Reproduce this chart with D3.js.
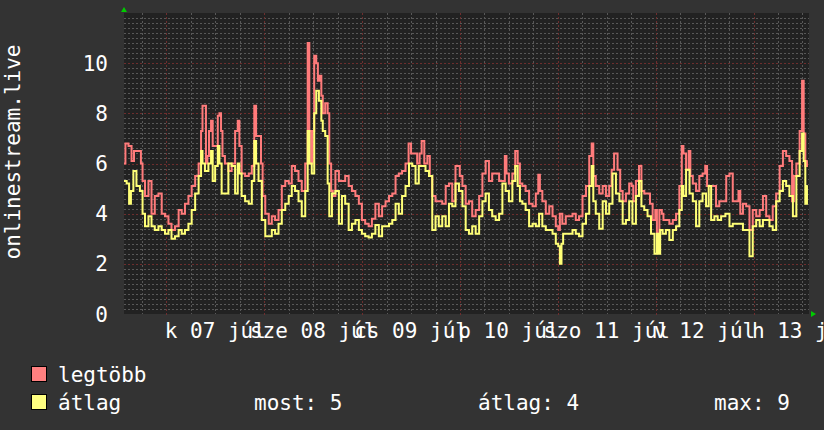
<!DOCTYPE html>
<html>
<head>
<meta charset="utf-8">
<script src="https://cdn.jsdelivr.net/npm/d3@7"></script>
<style>
  html, body { margin: 0; padding: 0; background: #333333; }
  svg text { font-family: "DejaVu Sans Mono", monospace; -webkit-font-smoothing: none; }
</style>
</head>
<body>
<svg id="chart" width="824" height="430"></svg>
<script>
// ---------- data ----------
const yAxisTitle = "onlinestream.live";
const startDate = new Date(2020, 6, 6, 13, 36);   // first sample
const spanHours = 168;                              // one week shown
const yTicks = [0, 2, 4, 6, 8, 10];
const yMax = 12;
const xTickLabels = ["k 07 júl", "sze 08 júl", "cs 09 júl", "p 10 júl", "szo 11 júl", "v 12 júl", "h 13 júl"];
const seriesNames = ["legtöbb", "átlag"];
const statLabels = ["most", "átlag", "max"];

// [hours since startDate, value]
const maxSeries = [[0,6.0],[0.7,6.8],[1.5,6.7],[2.2,6.1],[2.7,6.5],[3.9,6.5],[4.4,6.0],[4.7,5.3],[5.6,4.7],[6.4,5.3],[7.1,4.0],[8.0,4.7],[8.9,4.8],[9.6,4.0],[10.5,3.9],[11.3,3.6],[12.0,3.35],[13.0,3.5],[13.8,4.15],[14.5,4.0],[15.4,4.4],[16.2,4.7],[17.0,5.1],[17.9,5.5],[18.7,6.0],[19.1,7.3],[19.4,8.3],[19.9,8.3],[20.3,6.0],[20.6,6.3],[21.1,7.3],[21.6,7.7],[21.9,6.7],[22.8,6.7],[23.2,7.9],[23.6,8.0],[24.0,7.3],[24.3,6.3],[25.2,6.0],[26.0,5.7],[26.8,6.0],[27.7,7.3],[28.1,7.7],[28.5,6.7],[29.2,5.6],[30.2,5.5],[31.0,5.6],[31.7,5.9],[32.2,8.3],[32.6,7.1],[33.4,7.1],[33.8,6.0],[34.2,4.7],[35.1,4.0],[35.9,3.6],[36.6,3.9],[37.5,3.75],[38.3,4.15],[39.1,5.1],[40.0,5.3],[40.8,5.2],[41.5,5.9],[42.4,5.7],[43.2,5.3],[44.0,4.9],[44.9,6.0],[45.2,10.8],[45.7,7.3],[46.1,6.0],[46.4,7.3],[46.9,10.3],[47.4,10.0],[47.7,9.3],[48.2,9.5],[48.6,8.7],[48.9,8.0],[49.8,8.4],[50.1,8.0],[50.6,6.0],[51.0,4.9],[51.4,4.7],[52.3,5.7],[53.1,5.3],[53.8,5.3],[54.7,5.5],[55.5,5.1],[56.3,4.9],[57.2,4.7],[58.0,4.4],[58.7,3.75],[59.6,3.6],[60.4,3.5],[61.2,3.8],[62.1,4.4],[62.9,3.9],[63.7,4.3],[64.6,4.5],[65.4,4.7],[66.2,4.8],[67.0,5.5],[67.8,5.6],[68.6,5.7],[69.5,6.0],[70.1,6.8],[70.7,6.4],[71.5,6.4],[72.3,6.0],[72.7,6.4],[73.3,6.9],[74.0,6.0],[74.8,6.3],[75.2,5.5],[76.0,4.7],[76.8,4.5],[77.6,4.5],[78.5,4.4],[79.3,5.1],[80.1,5.2],[80.9,4.5],[81.7,5.9],[82.1,5.9],[82.6,5.5],[83.4,5.1],[84.2,4.4],[85.0,4.5],[85.8,3.9],[86.7,4.15],[87.5,4.7],[88.3,5.6],[89.1,6.1],[89.9,5.3],[90.7,5.6],[91.6,5.6],[92.4,5.3],[93.2,5.3],[93.6,6.3],[94.0,5.6],[94.8,5.2],[95.7,5.6],[96.2,6.5],[96.9,6.0],[97.3,5.2],[98.1,5.1],[98.9,4.9],[99.8,4.4],[100.6,4.3],[101.4,4.8],[101.8,5.55],[102.2,4.9],[103.0,4.5],[103.9,4.0],[104.7,4.3],[105.5,3.9],[106.3,3.5],[106.7,3.35],[107.1,4.0],[107.9,3.6],[108.8,3.9],[109.6,3.9],[110.4,4.0],[111.2,3.75],[112.0,3.9],[112.9,4.7],[113.7,5.1],[114.5,6.3],[114.9,6.8],[115.3,5.5],[116.1,5.1],[117.0,4.8],[117.8,5.1],[118.6,4.7],[119.4,5.1],[119.8,5.75],[120.6,6.4],[121.5,5.75],[121.9,4.9],[122.7,4.5],[123.5,4.8],[124.3,5.2],[124.7,5.1],[125.1,4.5],[126.0,5.3],[126.6,5.9],[127.2,4.9],[128.0,4.8],[128.8,4.8],[129.2,4.4],[130.1,3.75],[130.5,4.15],[130.9,3.2],[131.7,4.15],[132.1,4.0],[132.5,3.75],[133.3,3.75],[134.2,3.6],[135.0,3.75],[135.8,4.0],[136.6,5.1],[137.0,6.7],[137.4,6.4],[138.3,5.75],[138.7,6.5],[139.1,5.5],[139.9,5.2],[140.7,4.9],[141.5,5.5],[142.3,5.6],[142.8,5.9],[143.2,5.1],[144.0,5.1],[144.8,5.1],[145.6,4.3],[146.4,4.5],[147.3,4.5],[148.1,5.5],[148.9,5.6],[149.7,4.5],[150.5,4.5],[150.9,4.9],[151.4,4.0],[152.2,4.4],[153.0,4.3],[153.8,3.35],[154.6,4.15],[155.5,3.9],[156.3,4.15],[157.1,4.7],[157.9,3.9],[158.7,3.75],[159.5,4.3],[160.4,4.8],[161.2,5.9],[162.0,6.5],[162.8,6.3],[163.6,6.1],[164.1,4.5],[164.5,5.5],[165.3,6.0],[166.1,7.3],[166.5,9.3],[166.9,7.2],[167.3,5.9],[167.7,6.1]];

const avgSeries = [[0,5.3],[0.3,5.3],[1.0,5.2],[1.5,4.4],[1.9,4.9],[2.7,5.7],[3.4,5.1],[4.4,4.9],[4.7,4.0],[5.6,3.5],[6.4,3.9],[7.1,3.5],[8.0,3.35],[8.9,3.5],[9.6,3.35],[10.5,3.2],[11.3,3.35],[12.0,3.0],[13.0,3.1],[13.8,3.35],[14.5,3.2],[15.4,3.35],[16.2,3.6],[17.0,4.15],[17.9,4.8],[18.7,5.5],[19.1,6.5],[19.4,6.0],[20.3,5.7],[21.1,6.0],[21.6,6.5],[21.9,5.3],[22.8,5.9],[23.2,6.7],[23.6,6.0],[24.3,4.8],[25.2,4.8],[26.0,6.0],[26.8,5.9],[27.7,4.8],[28.1,6.0],[28.5,5.6],[29.2,4.7],[30.2,4.5],[31.0,4.4],[31.7,5.3],[32.2,6.9],[32.6,6.0],[33.4,5.3],[34.2,3.75],[35.1,3.1],[35.9,3.1],[36.6,3.35],[37.5,3.2],[38.3,3.6],[39.1,4.15],[40.0,4.4],[40.8,4.7],[41.5,5.1],[42.4,4.9],[43.2,4.5],[44.0,3.9],[44.9,4.9],[45.2,7.3],[45.7,6.0],[46.4,5.6],[46.9,8.0],[47.4,8.9],[48.2,8.5],[48.6,7.7],[48.9,7.3],[49.8,7.1],[50.1,5.2],[50.6,3.9],[51.4,4.8],[52.3,4.9],[53.1,3.6],[53.8,4.7],[54.7,4.4],[55.5,3.35],[56.3,3.6],[57.2,3.75],[58.0,3.35],[58.7,3.2],[59.6,3.1],[60.4,3.05],[61.2,3.2],[62.1,3.55],[62.9,3.1],[63.7,3.5],[64.6,3.5],[65.4,3.6],[66.2,3.75],[67.0,4.4],[67.8,4.0],[68.6,4.7],[69.5,5.1],[70.3,6.0],[71.1,5.9],[71.9,5.2],[72.7,5.9],[73.5,5.9],[74.4,5.7],[75.2,5.5],[76.0,3.35],[76.8,3.9],[77.6,3.5],[78.5,3.9],[79.3,3.5],[80.1,4.4],[80.9,4.3],[81.7,5.2],[82.6,4.9],[83.4,4.3],[84.2,3.35],[85.0,3.2],[85.8,3.5],[86.7,3.2],[87.5,3.9],[88.3,4.5],[89.1,4.8],[89.9,4.15],[90.7,3.9],[91.6,3.75],[92.4,4.0],[93.2,5.2],[94.0,4.9],[94.8,4.5],[95.7,5.3],[96.2,5.9],[96.9,5.1],[97.3,4.5],[98.1,4.4],[98.9,4.15],[99.8,3.5],[100.6,3.6],[101.4,3.5],[102.2,4.0],[103.0,3.5],[103.9,3.35],[104.7,3.35],[105.5,3.2],[106.3,2.8],[106.7,2.7],[107.1,2.0],[107.5,2.8],[107.9,3.2],[108.8,3.2],[109.6,3.2],[110.4,3.35],[111.2,3.2],[112.0,3.1],[112.9,3.6],[113.7,4.0],[114.5,5.1],[114.9,5.9],[115.3,4.5],[116.1,4.0],[117.0,3.4],[117.8,4.5],[118.6,4.0],[119.4,4.4],[120.2,5.6],[121.1,4.8],[121.9,4.5],[122.7,3.6],[123.5,3.75],[124.3,4.5],[125.1,3.6],[126.0,4.7],[126.6,5.3],[127.2,4.3],[128.0,4.15],[128.8,3.9],[129.7,3.2],[130.5,2.4],[130.9,3.2],[131.3,2.4],[131.7,3.35],[132.5,3.2],[133.3,3.35],[134.2,2.95],[135.0,3.35],[135.8,3.5],[136.6,4.15],[137.0,5.1],[137.4,4.7],[138.3,5.75],[139.1,4.8],[139.9,4.5],[140.7,3.5],[141.5,4.5],[142.3,4.8],[143.2,4.3],[143.6,5.1],[144.4,3.75],[145.2,3.9],[146.0,3.75],[146.9,3.9],[148.1,4.0],[148.9,3.5],[149.7,3.6],[150.5,3.6],[151.4,3.6],[152.2,3.35],[153.0,3.35],[153.8,2.3],[154.6,3.5],[155.5,3.75],[156.3,3.5],[157.1,3.75],[157.9,3.75],[158.7,3.5],[159.5,3.35],[160.4,4.5],[161.2,4.9],[162.0,5.3],[162.8,5.1],[163.6,4.7],[164.5,3.9],[165.3,5.5],[166.1,6.5],[166.5,7.2],[166.9,6.1],[167.3,4.4],[167.7,5.1]];

// ---------- layout / style ----------
const W = 824, H = 430;
const plot = { left: 124, right: 809, top: 13, bottom: 314 };
const colors = {
  canvas: "#333333", back: "#222222",
  minor: "#585858", major: "#6e2e2e",
  font: "#ffffff", arrow: "#00cc00",
  max: "#ff7b7b", avg: "#ffff77",
  maxBox: "#ff8080", avgBox: "#ffff80"
};
const FONT = 21;

const svg = d3.select("#chart");
svg.append("rect").attr("width", W).attr("height", H).attr("fill", colors.canvas);

const endDate = d3.timeHour.offset(startDate, spanHours);
const x = d3.scaleTime().domain([startDate, endDate]).range([plot.left, plot.right]);
const y = d3.scaleLinear().domain([0, yMax]).range([plot.bottom, plot.top]);
const toDate = h => new Date(+startDate + h * 3600e3);

svg.append("rect")
  .attr("x", plot.left).attr("y", plot.top)
  .attr("width", plot.right - plot.left).attr("height", plot.bottom - plot.top)
  .attr("fill", colors.back);

// grid
const g = svg.append("g");
const minorY = d3.range(1, yMax * 5).map(i => i / 5).filter(v => Math.abs(v / 2 - Math.round(v / 2)) > 1e-6);
g.selectAll(".hminor").data(minorY).join("line")
  .attr("x1", plot.left).attr("x2", plot.right)
  .attr("y1", d => Math.round(y(d)) + 0.5).attr("y2", d => Math.round(y(d)) + 0.5)
  .attr("stroke", colors.minor).attr("stroke-width", 1).attr("stroke-dasharray", "2,2");
const hours6 = d3.timeHour.every(6).range(startDate, endDate).filter(d => d.getHours() !== 0);
g.selectAll(".vminor").data(hours6).join("line")
  .attr("x1", d => Math.round(x(d)) + 0.5).attr("x2", d => Math.round(x(d)) + 0.5)
  .attr("y1", plot.top).attr("y2", plot.bottom)
  .attr("stroke", colors.minor).attr("stroke-width", 1).attr("stroke-dasharray", "2,2");
const majorY = yTicks.filter(v => v > 0);
g.selectAll(".hmajor").data(majorY).join("line")
  .attr("x1", plot.left).attr("x2", plot.right)
  .attr("y1", d => Math.round(y(d)) + 0.5).attr("y2", d => Math.round(y(d)) + 0.5)
  .attr("stroke", colors.major).attr("stroke-width", 1).attr("stroke-dasharray", "2,2");
const days = d3.timeDay.range(startDate, endDate);
g.selectAll(".vmajor").data(days).join("line")
  .attr("x1", d => Math.round(x(d)) + 0.5).attr("x2", d => Math.round(x(d)) + 0.5)
  .attr("y1", plot.top).attr("y2", plot.bottom + 3)
  .attr("stroke", colors.major).attr("stroke-width", 1).attr("stroke-dasharray", "2,2");

// series
svg.append("clipPath").attr("id", "clip").append("rect")
  .attr("x", plot.left).attr("y", plot.top)
  .attr("width", plot.right - plot.left).attr("height", plot.bottom - plot.top);
const line = d3.line().x(d => x(toDate(d[0]))).y(d => y(d[1])).curve(d3.curveStep);
const lines = svg.append("g").attr("clip-path", "url(#clip)");
lines.append("path").datum(maxSeries).attr("d", line)
  .attr("fill", "none").attr("stroke", colors.max).attr("stroke-width", 2).attr("stroke-linejoin", "miter");
lines.append("path").datum(avgSeries).attr("d", line)
  .attr("fill", "none").attr("stroke", colors.avg).attr("stroke-width", 2).attr("stroke-linejoin", "miter");

// arrows
svg.append("path").attr("fill", colors.arrow)
  .attr("d", `M${plot.left - 3},${plot.top - 1} L${plot.left + 3},${plot.top - 1} L${plot.left},${plot.top - 6} Z`);
svg.append("path").attr("fill", colors.arrow)
  .attr("d", `M${plot.right + 2},${plot.bottom - 3} L${plot.right + 2},${plot.bottom + 3} L${plot.right + 7},${plot.bottom} Z`);

// y axis labels
svg.selectAll(".ylab").data(yTicks).join("text")
  .attr("x", 108).attr("y", d => y(d)).attr("dy", "0.36em")
  .attr("text-anchor", "end").attr("fill", colors.font).attr("font-size", FONT)
  .text(d => d);

// x axis labels (centered on noon of each day)
svg.selectAll(".xlab").data(days).join("text")
  .attr("x", d => x(d3.timeHour.offset(d, 12))).attr("y", 338)
  .attr("text-anchor", "middle").attr("fill", colors.font).attr("font-size", FONT)
  .text((d, i) => xTickLabels[i]);

// vertical title
svg.append("text")
  .attr("transform", `translate(20,152) rotate(-90)`)
  .attr("text-anchor", "middle").attr("fill", colors.font).attr("font-size", FONT)
  .text(yAxisTitle);

// legend
const legend = [
  { name: seriesNames[0], color: colors.maxBox, y: 374 },
  { name: seriesNames[1], color: colors.avgBox, y: 402 }
];
legend.forEach(l => {
  svg.append("rect").attr("x", 31.5).attr("y", l.y - 7.5).attr("width", 15).attr("height", 15)
    .attr("fill", l.color).attr("stroke", "#000").attr("stroke-width", 1);
  svg.append("text").attr("x", 58).attr("y", l.y).attr("dy", "0.36em")
    .attr("fill", colors.font).attr("font-size", FONT).text(l.name);
});
const vals = avgSeries.map(d => d[1]);
const stats = [vals[vals.length - 1], d3.mean(vals), d3.max(vals)];
const statX = [254, 478, 714];
stats.forEach((s, i) => {
  svg.append("text").attr("x", statX[i]).attr("y", 402).attr("dy", "0.36em")
    .attr("fill", colors.font).attr("font-size", FONT)
    .text(`${statLabels[i]}: ${d3.format(".0f")(s)}`);
});
</script>
</body>
</html>
